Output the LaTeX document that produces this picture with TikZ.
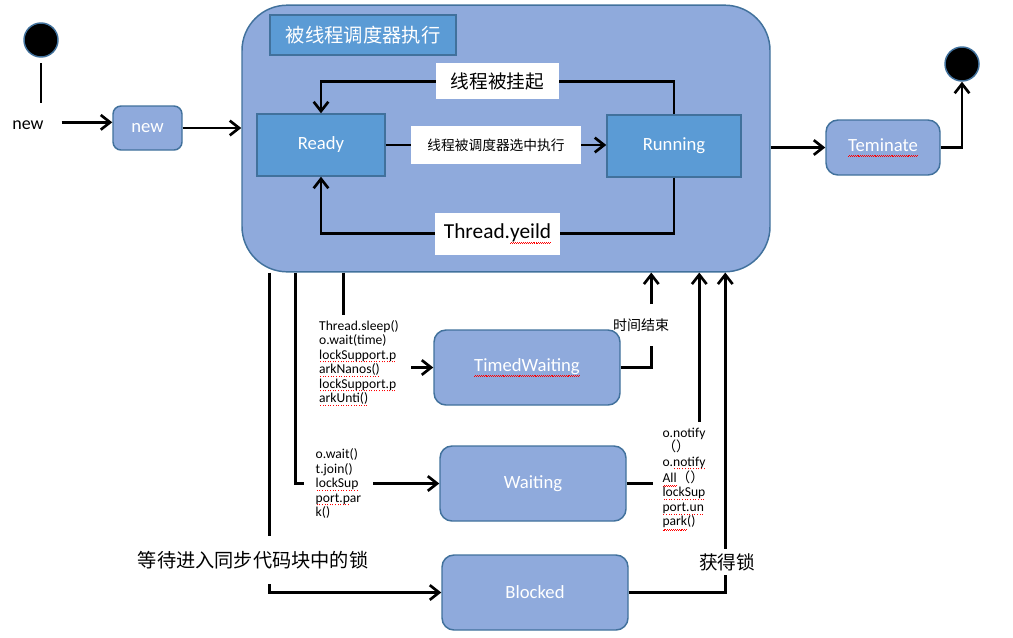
\documentclass[tikz,border=0pt]{standalone}
\usepackage{fontspec}
\setmainfont{Carlito}
\newfontfamily\cjk{Noto Sans CJK SC}
\usetikzlibrary{arrows.meta,positioning}
\definecolor{stateblue}{RGB}{143,170,220}
\definecolor{innerblue}{RGB}{91,155,213}
\definecolor{edgeblue}{RGB}{65,113,156}
\tikzset{>={Straight Barb[length=7pt,width=11pt]}}
\tikzset{
  state/.style={draw=edgeblue,fill=stateblue,line width=1.1pt,rounded corners=9pt,text=white,font=\fontsize{14}{16}\selectfont},
  inner/.style={draw=edgeblue,fill=innerblue,line width=1.1pt,text=white,font=\fontsize{14}{16}\selectfont},
  blob/.style={circle,fill=black,draw=edgeblue,line width=1.1pt,minimum size=25.5pt,inner sep=0pt},
  trans/.style={->,line width=2pt},
  tag/.style={fill=white,inner sep=0pt},
  calls/.style={fill=white,align=left,inner xsep=9pt,inner ysep=4pt,font=\fontsize{10.2}{10.9}\selectfont},
}
% spell check marks
\newcommand\redwave[1]{\leavevmode\setbox0\hbox{#1}\rlap{\color{red}\lower3.4pt\hbox to\wd0{\xleaders\hbox{\vrule width.7pt height.5pt\raise.7pt\hbox{\vrule width.7pt height.5pt}}\hfil}}\box0}
\newcommand\reddots[1]{\leavevmode\setbox0\hbox{#1}\rlap{\color{red}\lower2.4pt\hbox to\wd0{\xleaders\hbox{\kern.6pt\vrule width.7pt height.7pt\kern.6pt}\hfil}}\box0}

\begin{document}
\begin{tikzpicture}[x=0.75pt,y=-0.75pt]
    \useasboundingbox (0,0) rectangle (1013,637);

    % runnable state with its two sub states
    \node[state,rounded corners=34pt,minimum width=396pt,minimum height=200pt] (run) at (506,138.5) {};
    \node[inner,minimum width=139.5pt,minimum height=30pt,font=\cjk\fontsize{14.5}{16}\selectfont] (title) at (363,35) {被线程调度器执行};
    \node[inner,minimum width=96pt,minimum height=46.5pt] (ready) at (321,145) {Ready};
    \node[inner,minimum width=100.5pt,minimum height=46.5pt] (running) at (674,146) {Running};

    % start and end
    \node[blob] (init) at (41,40) {};
    \node[blob] (final) at (962,64) {};
    \node[font=\fontsize{13.5}{16}\selectfont] (newlbl) at (28,125) {new};
    \coordinate (stem) at (38,103);

    % other states
    \node[state,rounded corners=6pt,minimum width=51.75pt,minimum height=33pt] (new) at (147.5,128) {new};
    \node[state,minimum width=85.5pt,minimum height=41.25pt] (term) at (883,147.5) {\redwave{Teminate}};
    \node[state,minimum width=139.5pt,minimum height=56.25pt] (timed) at (527,367.5) {\redwave{TimedWaiting}};
    \node[state,minimum width=139.5pt,minimum height=56.25pt] (waiting) at (533,483.5) {Waiting};
    \node[state,minimum width=139.5pt,minimum height=56.25pt] (blocked) at (535,592.5) {Blocked};

    % points on the lower edge of the runnable state
    \path (run.south west) ++(28,0) coordinate (toblock) ++(26,0) coordinate (towait) ++(48,0) coordinate (tosleep);
    \path (run.south west) ++(410,0) coordinate (fromtimed) ++(48,0) coordinate (fromwait) ++(26,0) coordinate (fromblock);

    % transitions
    \draw[line width=2pt] ([yshift=-4pt]init.south) -- (init.south |- stem);
    \draw[trans] ([xshift=10pt,yshift=2pt]newlbl.east) -- ([yshift=2pt]newlbl.east -| new.west);
    \draw[trans] (new.east) -- (new.east -| run.west);
    \draw[trans] (ready.east) -- (ready.east -| running.west)
        node[tag,midway,minimum width=127.5pt,minimum height=28.5pt,font=\cjk\fontsize{10.3}{12}\selectfont] {线程被调度器选中执行};
    \draw[trans] (running.north) -- ++(0,-33) -| (ready.north)
        node[tag,pos=0.25,minimum width=92pt,minimum height=27pt,font=\cjk\fontsize{14}{16}\selectfont] {线程被挂起};
    \draw[trans] (running.south) -- ++(0,56) -| (ready.south)
        node[tag,pos=0.25,minimum width=93.75pt,minimum height=31.5pt,font=\fontsize{16}{18}\selectfont] {Thread.\redwave{yeild}};
    \draw[trans] (run.east |- term) -- (term.west);
    \draw[trans] (term.east) -| (final.south);

    % leaving the runnable state
    \draw[trans] (toblock) |- (blocked.west);
    \node[tag,minimum height=36pt,inner xsep=2pt,font=\cjk\fontsize{14.4}{16}\selectfont] (lockwait) at (253,560) {等待进入同步代码块中的锁};
    \draw[trans] (towait) |- (waiting.west)
        node[calls,pos=0.65] (waitcalls) {o.wait()\\t.join()\\\reddots{lockSup}\\\reddots{port.p}ar\\k()};
    \draw[trans] (tosleep) |- (timed.west);
    \node[calls] (sleepcalls) at (359,363) {Thread.sleep()\\o.wait(time)\\\reddots{lockSupport.p}\\\reddots{arkNanos()}\\\reddots{lockSupport.p}\\\reddots{arkUnti()}};

    % back to the runnable state
    \node[minimum height=31pt,inner xsep=2pt,font=\cjk\fontsize{10.5}{12}\selectfont] (timeup) at (641,325) {时间结束};
    \draw[line width=2pt] (timed.east) -| (timeup.south -| fromtimed);
    \draw[trans] (timeup.north -| fromtimed) -- (fromtimed);
    \draw[trans] (waiting.east) -| (fromwait);
    \node[calls,inner xsep=7pt] (notifycalls) at (684,479) {o.notify\\{\cjk （）}\\o.\reddots{notify}\\\redwave{All}{\cjk （）}\\\reddots{lockSup}\\\reddots{port.un}\\\redwave{park}()};
    \draw[trans] (blocked.east) -| (fromblock);
    \node[tag,minimum height=20pt,inner xsep=2pt,font=\cjk\fontsize{14}{16}\selectfont] (gotlock) at (727,562) {获得锁};
\end{tikzpicture}
\end{document}
